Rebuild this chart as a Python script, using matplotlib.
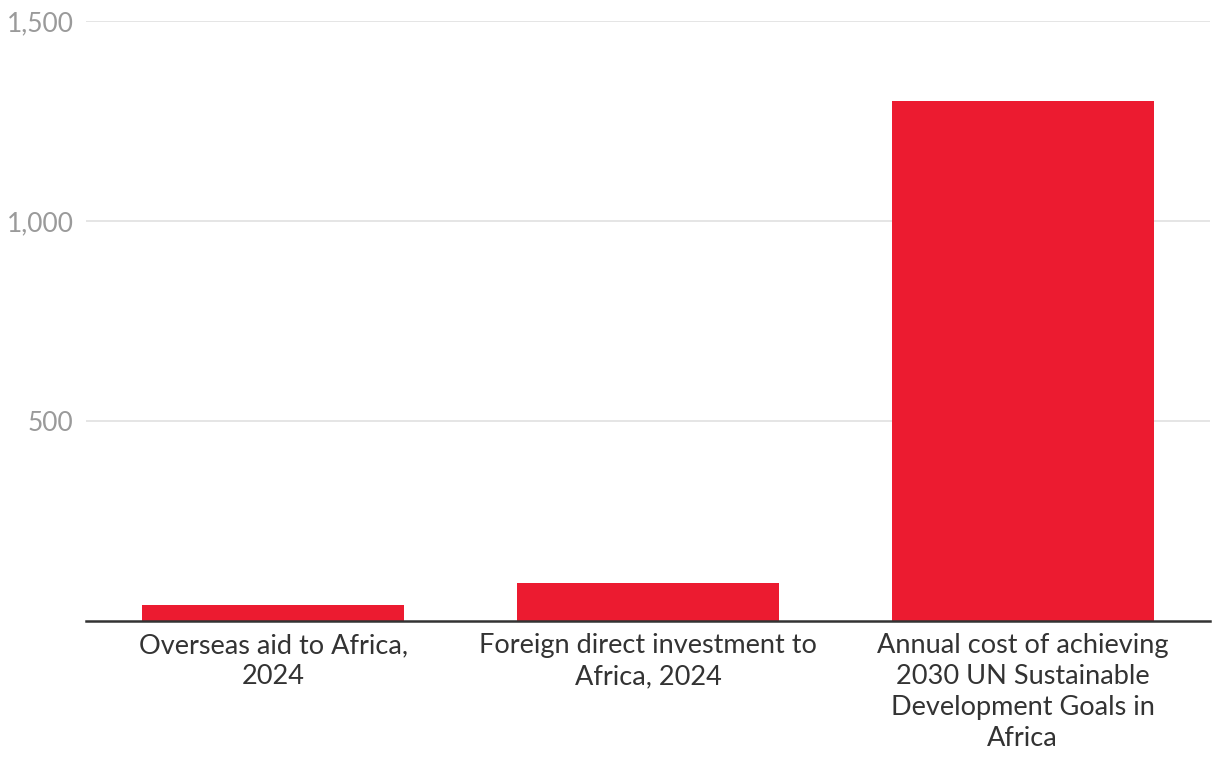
import matplotlib.pyplot as plt

# Daten (Mrd. $)
labels = ["Overseas aid to Africa,\n2024",
          "Foreign direct investment to\nAfrica, 2024",
          "Annual cost of achieving\n2030 UN Sustainable\nDevelopment Goals in\nAfrica"]
values = [40, 95, 1300]
yticks = [500, 1000, 1500]
ytick_labels = ["500", "1,000", "1,500"]

plt.rcParams['font.family'] = ['Lato', 'DejaVu Sans']

fig = plt.figure(figsize=(12.2, 7.7), dpi=100)
ax = fig.add_axes([86 / 1220, 149 / 770, 1124 / 1220, 600 / 770])

ax.bar(range(len(values)), values, width=0.7, color='#ec1b30', zorder=3)

ax.set_xlim(-0.5, 2.5)
ax.set_ylim(0, 1500)
ax.set_yticks(yticks)
ax.set_yticklabels(ytick_labels)
ax.set_xticks(range(len(labels)))
ax.set_xticklabels(labels, linespacing=1.3)

ax.grid(axis='y', color='#e0e0e0', linewidth=1.2, zorder=0)
for s in ['top', 'right', 'left']:
    ax.spines[s].set_visible(False)
ax.spines['bottom'].set_color('#333333')
ax.spines['bottom'].set_linewidth(1.8)
ax.spines['bottom'].set_zorder(4)

ax.tick_params(axis='y', length=0, pad=9, labelsize=19, labelcolor='#9a9a9a')
ax.tick_params(axis='x', length=0, pad=9, labelsize=19.5, labelcolor='#333333')

fig.savefig("out.png", dpi=100)
